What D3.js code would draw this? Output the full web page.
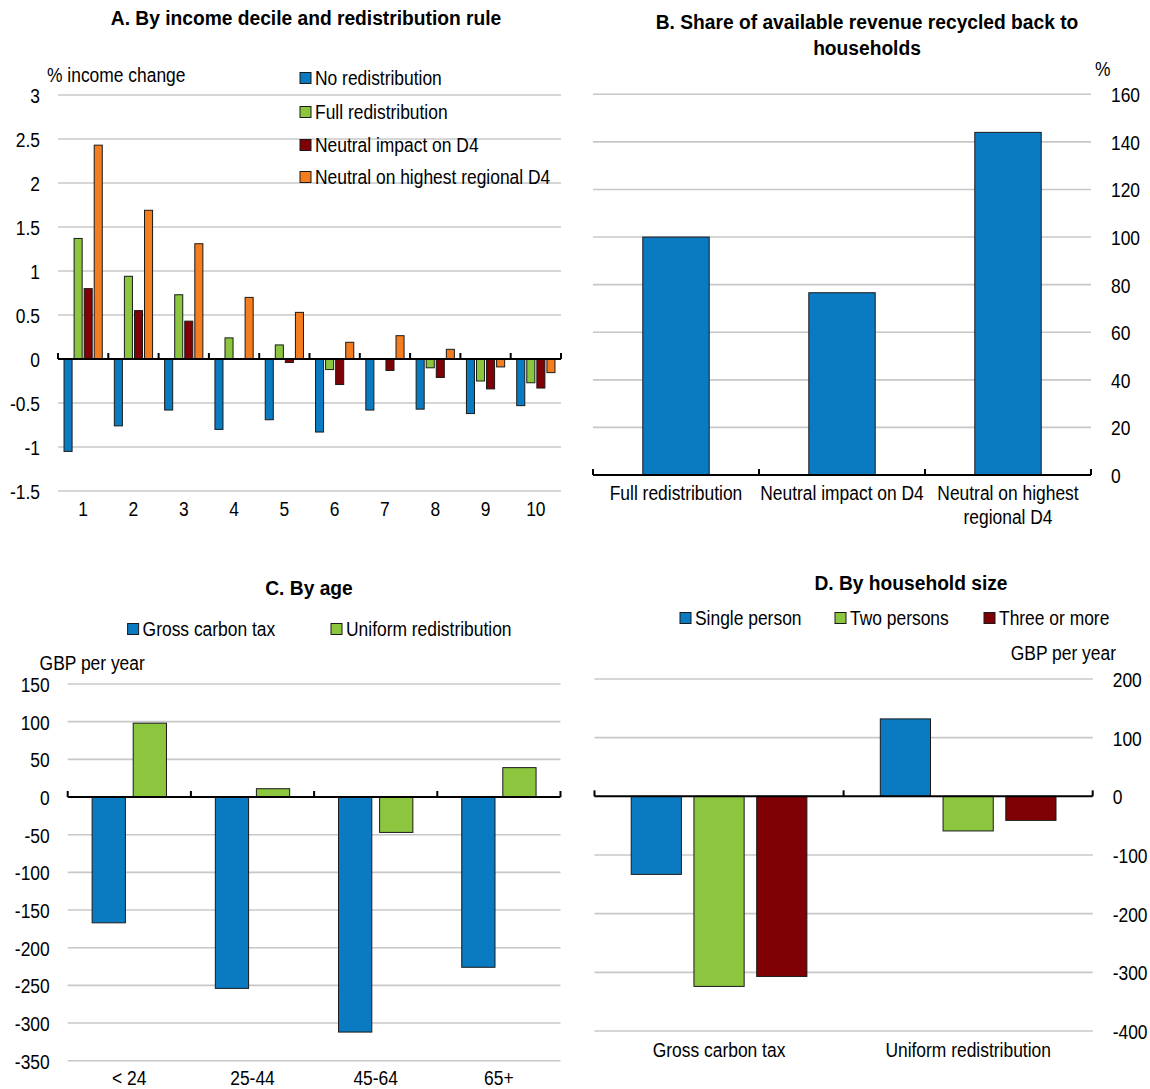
<!DOCTYPE html>
<html><head><meta charset="utf-8">
<script src="https://cdn.jsdelivr.net/npm/d3@7"></script>
<style>
body{margin:0;background:#fff;}
svg text{font-family:"Liberation Sans",Arial,sans-serif;fill:#000;}
</style></head>
<body><svg id="c" width="1150" height="1089"></svg>
<script>
// Panel A data
const deciles = ["1","2","3","4","5","6","7","8","9","10"];
const seriesA = ["No redistribution","Full redistribution","Neutral impact on D4","Neutral on highest regional D4"];
const noRedistribution = [-1.05,-0.76,-0.58,-0.80,-0.69,-0.83,-0.58,-0.57,-0.62,-0.53];
const fullRedistribution = [1.37,0.94,0.73,0.24,0.16,-0.12,0,-0.10,-0.25,-0.27];
const neutralD4 = [0.80,0.55,0.43,0,-0.04,-0.29,-0.13,-0.21,-0.34,-0.33];
const neutralHighestD4 = [2.43,1.69,1.31,0.70,0.53,0.19,0.265,0.11,-0.09,-0.155];
const ticksA = [-1.5,-1,-0.5,0,0.5,1,1.5,2,2.5,3];

// Panel B data
const catsB = ["Full redistribution","Neutral impact on D4","Neutral on highest\nregional D4"];
const shareRecycled = [100,76.6,144];
const ticksB = [0,20,40,60,80,100,120,140,160];

// Panel C data
const ageGroups = ["< 24","25-44","45-64","65+"];
const seriesC = ["Gross carbon tax","Uniform redistribution"];
const grossByAge = [-167,-254,-312,-226];
const uniformByAge = [98,11,-47,39];
const ticksC = [-350,-300,-250,-200,-150,-100,-50,0,50,100,150];

// Panel D data
const catsD = ["Gross carbon tax","Uniform redistribution"];
const seriesD = ["Single person","Two persons","Three or more"];
const singlePerson = [-133,132];
const twoPersons = [-324,-59];
const threeOrMore = [-307,-41];
const ticksD = [-400,-300,-200,-100,0,100,200];

const BLUE="#0a7bc1", GREEN="#8cc63f", RED="#7f0005", ORANGE="#f47d20";
const GRID="#c8c8c8";

const svg = d3.select("#c");
const FS = 21;
const KX = 0.83;   // horizontal condensing of the narrow typeface
const KT = 0.915;  // condensing for bold titles

function condense(sel,k){
  sel.each(function(){
    const t = d3.select(this);
    const x = +t.attr("x")||0, y = +t.attr("y")||0;
    t.attr("x",0).attr("y",0).attr("transform",`translate(${x},${y}) scale(${k},1)`);
  });
}

function panel(o){
  const g = svg.append("g");
  const x0 = d3.scaleBand().domain(o.cats).range([o.left,o.right]).padding(0);
  const x1 = d3.scaleBand().domain(o.series).range([0,x0.bandwidth()]).paddingInner(o.pi).paddingOuter(o.po);
  const y = d3.scaleLinear().domain(o.domain).range([o.bottom,o.top]);
  g.append("g").selectAll("line").data(o.ticks.filter(t=>t!==0)).join("line")
    .attr("x1",o.left).attr("x2",o.right).attr("y1",d=>y(d)).attr("y2",d=>y(d))
    .attr("stroke",GRID).attr("stroke-width",1.6);
  const axis = o.rightAxis ? d3.axisRight(y) : d3.axisLeft(y);
  const ag = g.append("g").attr("transform",`translate(${o.rightAxis? o.right+20 : o.left-18},0)`)
    .call(axis.tickValues(o.ticks).tickSize(0).tickPadding(0).tickFormat(d=>String(d)));
  ag.select(".domain").remove();
  ag.selectAll("text").attr("font-size",FS).attr("font-family",null).attr("fill","#000").attr("dy","0.35em");
  condense(ag.selectAll("text"),KX);
  const data = [];
  o.cats.forEach((c,i)=>o.series.forEach((s,j)=>data.push({c,s,v:o.values[j][i],col:o.colors[j]})));
  g.append("g").selectAll("rect").data(data.filter(d=>d.v!==0)).join("rect")
    .attr("x",d=>x0(d.c)+x1(d.s)).attr("width",x1.bandwidth())
    .attr("y",d=>y(Math.max(0,d.v))).attr("height",d=>Math.abs(y(d.v)-y(0)))
    .attr("fill",d=>d.col).attr("stroke","#1a1a1a").attr("stroke-width",1);
  const y0 = y(0);
  g.append("line").attr("x1",o.left).attr("x2",o.right).attr("y1",y0).attr("y2",y0)
    .attr("stroke","#000").attr("stroke-width",2);
  const bounds = o.cats.map(c=>x0(c)).concat([o.right]);
  g.append("g").selectAll("line").data(bounds).join("line")
    .attr("x1",d=>d).attr("x2",d=>d).attr("y1",y0).attr("y2",y0-6)
    .attr("stroke","#000").attr("stroke-width",2);
  const lines = [];
  o.cats.forEach(c=>c.split("\n").forEach((p,k)=>lines.push({x:x0(c)+x0.bandwidth()/2,y:o.labelY+k*24,t:p})));
  const lab = g.append("g").selectAll("text").data(lines).join("text")
    .attr("x",d=>d.x).attr("y",d=>d.y).attr("text-anchor","middle").attr("font-size",FS).attr("dy","0.35em")
    .text(d=>d.t);
  condense(lab,KX);
  return {x0,x1,y};
}

function title(lines,x,y){
  lines.forEach((l,k)=>{
    const t = svg.append("text").attr("x",x).attr("y",y+k*26).attr("dy","0.35em").attr("text-anchor","middle")
      .attr("font-size",21).attr("font-weight","bold").text(l);
    condense(t,KT);
  });
}
function legendItem(x,y,col,label){
  svg.append("rect").attr("x",x).attr("y",y-5.5).attr("width",11).attr("height",11)
    .attr("fill",col).attr("stroke","#1a1a1a").attr("stroke-width",1);
  const t = svg.append("text").attr("x",x+15).attr("y",y).attr("dy","0.35em").attr("font-size",FS).text(label);
  condense(t,KX);
}
function note(txt,x,y,anchor){
  const t = svg.append("text").attr("x",x).attr("y",y).attr("dy","0.35em").attr("text-anchor",anchor||"start")
    .attr("font-size",FS).text(txt);
  condense(t,KX);
}

// Panel A
title(["A. By income decile and redistribution rule"],306,18);
panel({cats:deciles,series:seriesA,values:[noRedistribution,fullRedistribution,neutralD4,neutralHighestD4],
  colors:[BLUE,GREEN,RED,ORANGE],left:58,right:561,top:95,bottom:491,domain:[-1.5,3],ticks:ticksA,
  pi:0.2,po:0.6,labelY:509,rightAxis:false});
note("% income change",47,75);
const legY = [78,112,145,177];
seriesA.forEach((s,i)=>legendItem(300,legY[i],[BLUE,GREEN,RED,ORANGE][i],s));

// Panel B
title(["B. Share of available revenue recycled back to","households"],867,22);
panel({cats:catsB,series:["Share"],values:[shareRecycled],colors:[BLUE],
  left:593,right:1091,top:94.3,bottom:475,domain:[0,160],ticks:ticksB,pi:0.6,po:0.3,labelY:493,rightAxis:true});
note("%",1095,69);

// Panel C
title(["C. By age"],309,588);
panel({cats:ageGroups,series:seriesC,values:[grossByAge,uniformByAge],colors:[BLUE,GREEN],
  left:67.7,right:560.5,top:684,bottom:1060.7,domain:[-350,150],ticks:ticksC,pi:0.19,po:0.595,labelY:1078,rightAxis:false});
legendItem(127.6,629,BLUE,seriesC[0]);
legendItem(331,629,GREEN,seriesC[1]);
note("GBP per year",39.6,662.7);

// Panel D
title(["D. By household size"],911,583);
panel({cats:catsD,series:seriesD,values:[singlePerson,twoPersons,threeOrMore],colors:[BLUE,GREEN,RED],
  left:594.5,right:1092.7,top:679,bottom:1031,domain:[-400,200],ticks:ticksD,pi:0.2,po:0.585,labelY:1050,rightAxis:true});
legendItem(680,618,BLUE,seriesD[0]);
legendItem(835,618,GREEN,seriesD[1]);
legendItem(984,618,RED,seriesD[2]);
note("GBP per year",1116,653,"end");
</script></body></html>
